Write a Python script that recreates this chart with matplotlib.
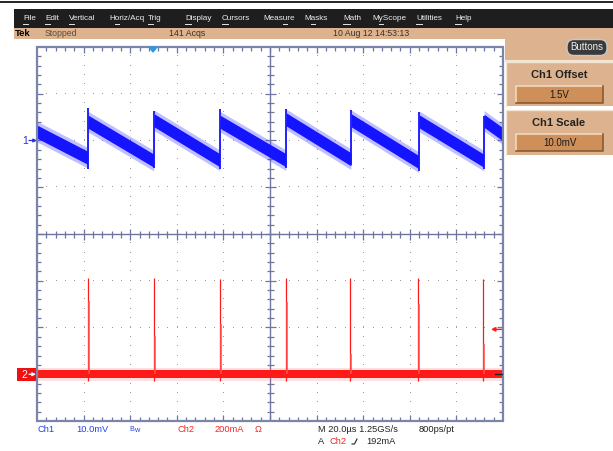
import numpy as np
import matplotlib
matplotlib.use("Agg")
import matplotlib.pyplot as plt
from matplotlib.patches import Rectangle, FancyBboxPatch, Polygon
from matplotlib.collections import LineCollection
from matplotlib.font_manager import FontProperties

plt.rcParams['font.family'] = ['Liberation Sans', 'DejaVu Sans']

# ---------------- data ----------------
menu_items = ["File", "Edit", "Vertical", "Horiz/Acq", "Trig", "Display", "Cursors",
              "Measure", "Masks", "Math", "MyScope", "Utilities", "Help"]
menu_mnemonic = [0, 0, 0, 1, 0, 0, 0, 4, 1, 0, 1, 0, 0]
menu_x = [23, 45, 69, 109, 148, 185, 222, 263, 304, 343, 372, 416, 455]

status_texts = ["Tek", "Stopped", "141 Acqs", "10 Aug 12 14:53:13"]
status_x = [15, 45, 169, 333]

# Channel 1 (mV), time in microseconds (20 us/div, 10 div)
ch1_jump_us = [21.9, 50.2, 78.5, 106.9, 134.8, 163.9, 191.8]
ch1_after_mv = [4.0, 4.3, 4.0, 4.5, 4.3, 4.1, 4.2]
ch1_before_mv = [-3.7, -4.3, -4.2, -4.2, -4.0, -4.6, -4.3]
ch1_spike_hi_mv = [7.0, 6.4, 6.8, 6.8, 6.6, 6.2, 5.3]
ch1_spike_lo_mv = [-6.0, -5.8, -6.0, -5.8, -5.3, -6.6, -6.0]
ch1_start_mv = 1.9
ch1_end_mv = 1.3
ch1_band_mv = 1.4

# Channel 2 (mA)
ch2_spike_us = [21.9, 50.2, 78.5, 106.9, 134.3, 163.5, 191.4]
ch2_peak_ma = [410, 410, 408, 410, 410, 410, 408]
ch2_second_ma = [312, 163, 214, 308, 86, 300, 128]
ch2_dip_ma = [-30, -30, -28, -30, -30, -30, -30]
ch2_band_ma = 17

ch1_scale_mv, ch1_pos_div = 10.0, 2.0
ch2_scale_ma, ch2_pos_div = 200.0, -3.0
time_per_div = 20.0
trig_level_ma = 192
trig_time_us = 49.8

# ---------------- figure ----------------
W, H = 613, 451
fig = plt.figure(figsize=(W / 100, H / 100), dpi=100)
fig.patch.set_facecolor('white')
bg = fig.add_axes([0, 0, 1, 1])
bg.set_xlim(0, W)
bg.set_ylim(H, 0)
bg.axis('off')

TAN = '#ddb38f'
BTN = '#cf8f58'

# top black line
bg.plot([0, W], [1.5, 1.5], color='black', lw=1.2)
# menu bar
bg.add_patch(Rectangle((14, 9), W - 14, 19, color='#1e1e1e', lw=0))
# status bar
bg.add_patch(Rectangle((14, 28), W - 14, 11, color=TAN, lw=0))
# right panel top tan
bg.add_patch(Rectangle((505, 28), W - 505, 32, color=TAN, lw=0))

renderer = fig.canvas.get_renderer()
fp_menu = FontProperties(family=['Liberation Sans', 'DejaVu Sans'], size=5.9)
fp_stat = FontProperties(family=['Liberation Sans', 'DejaVu Sans'], size=6.3)

for s, k, x in zip(menu_items, menu_mnemonic, menu_x):
    bg.text(x, 19, s, color='#eeeeee', fontproperties=fp_menu, va='center', ha='left')
    w0 = renderer.get_text_width_height_descent(s[:k], fp_menu, ismath=False)[0] if k > 0 else 0
    w1 = renderer.get_text_width_height_descent(s[:k + 1], fp_menu, ismath=False)[0]
    bg.plot([x + w0, x + w1], [23.5, 23.5], color='#e6e6e6', lw=0.7)

bg.text(status_x[0], 33.5, status_texts[0], fontsize=6.8, fontweight='bold', color='black', va='center')
bg.text(status_x[1], 33.5, status_texts[1], fontproperties=fp_stat, color='#5a4a3c', va='center')
bg.text(status_x[2], 33.5, status_texts[2], fontproperties=fp_stat, color='#3a3028', va='center')
bg.text(status_x[3], 33.5, status_texts[3], fontproperties=fp_stat, color='#3a3028', va='center')

# Buttons pill
bg.add_patch(FancyBboxPatch((567, 39.5), 40, 16, boxstyle='round,pad=0,rounding_size=7',
                            fc='#3a3a3a', ec='#c8c8c8', lw=1.0))
bg.text(587, 47.5, "Buttons", fontsize=7, color='#eeeeee', ha='center', va='center')

# panel boxes
def panel(y0, y1, title, value, yt, yb0, yb1):
    bg.add_patch(Rectangle((506, y0), W - 506, y1 - y0, fc=TAN, ec='none'))
    bg.plot([506, 506, W], [y1, y0, y0], color='#f4e4d4', lw=1)
    bg.text(559, yt, title, fontsize=8, fontweight='bold', color='#222222', ha='center', va='center')
    bg.add_patch(Rectangle((516, yb0), 87, yb1 - yb0, fc=BTN, ec='none'))
    bg.plot([516, 516, 603], [yb1, yb0, yb0], color='#f0d8c0', lw=1.2)
    bg.plot([516, 603, 603], [yb1, yb1, yb0], color='#8a5a34', lw=1.2)
    bg.text(559.5, (yb0 + yb1) / 2, value, fontsize=7, color='#1a1a1a', ha='center', va='center')

bg.plot([506, W], [61, 61], color='#f4e4d4', lw=1.5)
panel(62, 106, "Ch1 Offset", "1.5V", 75, 86, 103)
panel(110, 155, "Ch1 Scale", "10.0mV", 123.5, 134, 151)

# ---------------- scope graticule ----------------
L, R, T, B = 37, 503, 47, 421
ax = fig.add_axes([L / W, 1 - B / H, (R - L) / W, (B - T) / H])
ax.set_xlim(-5, 5)
ax.set_ylim(-4, 4)
ax.axis('off')
ax.patch.set_alpha(0)

pxx = 10 / (R - L)
pxy = 8 / (B - T)
GRID = '#6e76a0'

# dotted grid
for xd in range(-4, 5):
    if xd == 0:
        continue
    ys = np.arange(-3.8, 3.81, 0.2)
    ax.plot(np.full_like(ys, xd), ys, ',', color='#9c9c9c', zorder=1)
for yd in range(-3, 4):
    if yd == 0:
        continue
    xs = np.arange(-4.8, 4.81, 0.2)
    ax.plot(xs, np.full_like(xs, yd), ',', color='#9c9c9c', zorder=1)

ax.plot([-5, 5], [0, 0], color=GRID, lw=1.0, zorder=1)
ax.plot([0, 0], [-4, 4], color=GRID, lw=1.0, zorder=1)

segs = []
for x in np.arange(-4.8, 4.81, 0.2):
    major = abs(x - round(x)) < 1e-6
    lc = (5.5 if major else 3.5) * pxy
    segs.append([(x, -lc), (x, lc)])
    lb = (6 if major else 4) * pxy
    segs.append([(x, 4), (x, 4 - lb)])
    segs.append([(x, -4), (x, -4 + lb)])
for y in np.arange(-3.8, 3.81, 0.2):
    major = abs(y - round(y)) < 1e-6
    lc = (5.5 if major else 3.5) * pxx
    segs.append([(-lc, y), (lc, y)])
    lb = (6 if major else 4) * pxx
    segs.append([(-5, y), (-5 + lb, y)])
    segs.append([(5, y), (5 - lb, y)])
ax.add_collection(LineCollection(segs, colors=GRID, linewidths=0.9, zorder=1))
ax.add_patch(Rectangle((-5, -4), 10, 8, fill=False, ec='#7c84aa', lw=1.6, zorder=5, clip_on=False))

def tx(t):
    return np.asarray(t) / time_per_div - 5

def c1(v):
    return ch1_pos_div + np.asarray(v) / ch1_scale_mv

def c2(v):
    return ch2_pos_div + np.asarray(v) / ch2_scale_ma

# ---------------- Ch1 trace ----------------
t_pts = [0.0]
v_pts = [ch1_start_mv]
for j, lo, hi in zip(ch1_jump_us, ch1_before_mv, ch1_after_mv):
    t_pts += [j - 0.12, j + 0.12]
    v_pts += [lo, hi]
t_pts.append(200.0)
v_pts.append(ch1_end_mv)
t_pts = np.array(t_pts)
v_pts = np.array(v_pts)
BLUE = '#1414ff'
ax.fill_between(tx(t_pts), c1(v_pts - 2.2), c1(v_pts + 2.2), color='#4a4aff', alpha=0.35, lw=0, zorder=3)
ax.fill_between(tx(t_pts), c1(v_pts - ch1_band_mv), c1(v_pts + ch1_band_mv), color=BLUE, lw=0, zorder=3)
ax.vlines(tx(ch1_jump_us), c1(ch1_spike_lo_mv), c1(ch1_spike_hi_mv), color=BLUE, lw=1.3, zorder=3)

# ---------------- Ch2 trace ----------------
RED = '#ff1a1a'
ax.fill_between(tx([0, 200]), c2([-28, -28]), c2([28, 28]), color='#ff6060', alpha=0.2, lw=0, zorder=3)
ax.fill_between(tx([0, 200]), c2([-ch2_band_ma] * 2), c2([ch2_band_ma] * 2), color=RED, lw=0, zorder=3)
ax.vlines(tx(ch2_spike_us), c2(ch2_dip_ma), c2(ch2_peak_ma), color=RED, lw=0.9, zorder=4)
ax.vlines(tx(np.array(ch2_spike_us) + 0.3), c2([0] * 7), c2(ch2_second_ma), color='#ff5050', lw=1.1, zorder=4)

# trigger position marker
xt = tx(trig_time_us)
ax.add_patch(Polygon([(xt - 4 * pxx, 4), (xt + 4 * pxx, 4), (xt, 4 - 5 * pxy)], closed=True,
                     color='#2a9ae0', zorder=6, clip_on=False))
# right-edge ground dash
ax.plot([5 - 8 * pxx, 5], [ch2_pos_div, ch2_pos_div], color='#222222', lw=1, zorder=6)

# trigger level arrow (figure pixel coords)
y_trig = T + (4 - float(c2(trig_level_ma))) / pxy
bg.annotate('', xy=(491, y_trig), xytext=(502, y_trig),
            arrowprops=dict(arrowstyle='-|>', color=RED, lw=1.0, mutation_scale=6,
                            shrinkA=0, shrinkB=0))

# channel markers
y1 = T + (4 - ch1_pos_div) / pxy
bg.text(25, y1, "1", color='#2030e0', fontsize=7.5, ha='center', va='center')
bg.annotate('', xy=(37, y1), xytext=(29, y1),
            arrowprops=dict(arrowstyle='-|>', color='#2030e0', lw=0.9, mutation_scale=5,
                            shrinkA=0, shrinkB=0))
y2 = T + (4 - ch2_pos_div) / pxy
bg.add_patch(Rectangle((17, y2 - 6), 20, 13, color='#ee1111', lw=0))
bg.text(24.5, y2 + 0.5, "2", color='white', fontsize=7.5, ha='center', va='center')
bg.annotate('', xy=(36, y2), xytext=(29, y2),
            arrowprops=dict(arrowstyle='-|>', color='white', lw=0.9, mutation_scale=5,
                            shrinkA=0, shrinkB=0))

# ---------------- bottom readouts ----------------
CB = '#2840e6'
CR = '#f02828'
yb1, yb2 = 430, 441.5
fs = 6.7
bg.text(37, yb1, "Ch1", color=CB, fontsize=fs, va='center')
bg.text(76, yb1, "10.0mV", color=CB, fontsize=fs, va='center')
bg.text(129, yb1 - 0.5, "B", color=CB, fontsize=5.2, va='center')
bg.text(134, yb1 + 0.5, "w", color=CB, fontsize=5.2, va='center')
bg.text(177, yb1, "Ch2", color=CR, fontsize=fs, va='center')
bg.text(215, yb1, "200mA", color=CR, fontsize=fs, va='center')
bg.text(255, yb1, "Ω", color=CR, fontsize=fs, va='center')
bg.text(318, yb1, "M 20.0µs 1.25GS/s", color='#222222', fontsize=fs, va='center')
bg.text(419, yb1, "800ps/pt", color='#222222', fontsize=fs, va='center')
bg.text(318, yb2, "A", color='#222222', fontsize=fs, va='center')
bg.text(329, yb2, "Ch2", color=CR, fontsize=fs, va='center')
bg.plot([352, 354.5, 357], [444, 444, 439], color='#222222', lw=0.8)
bg.text(366, yb2, "192mA", color='#222222', fontsize=fs, va='center')

fig.savefig('out.png', dpi=100)
